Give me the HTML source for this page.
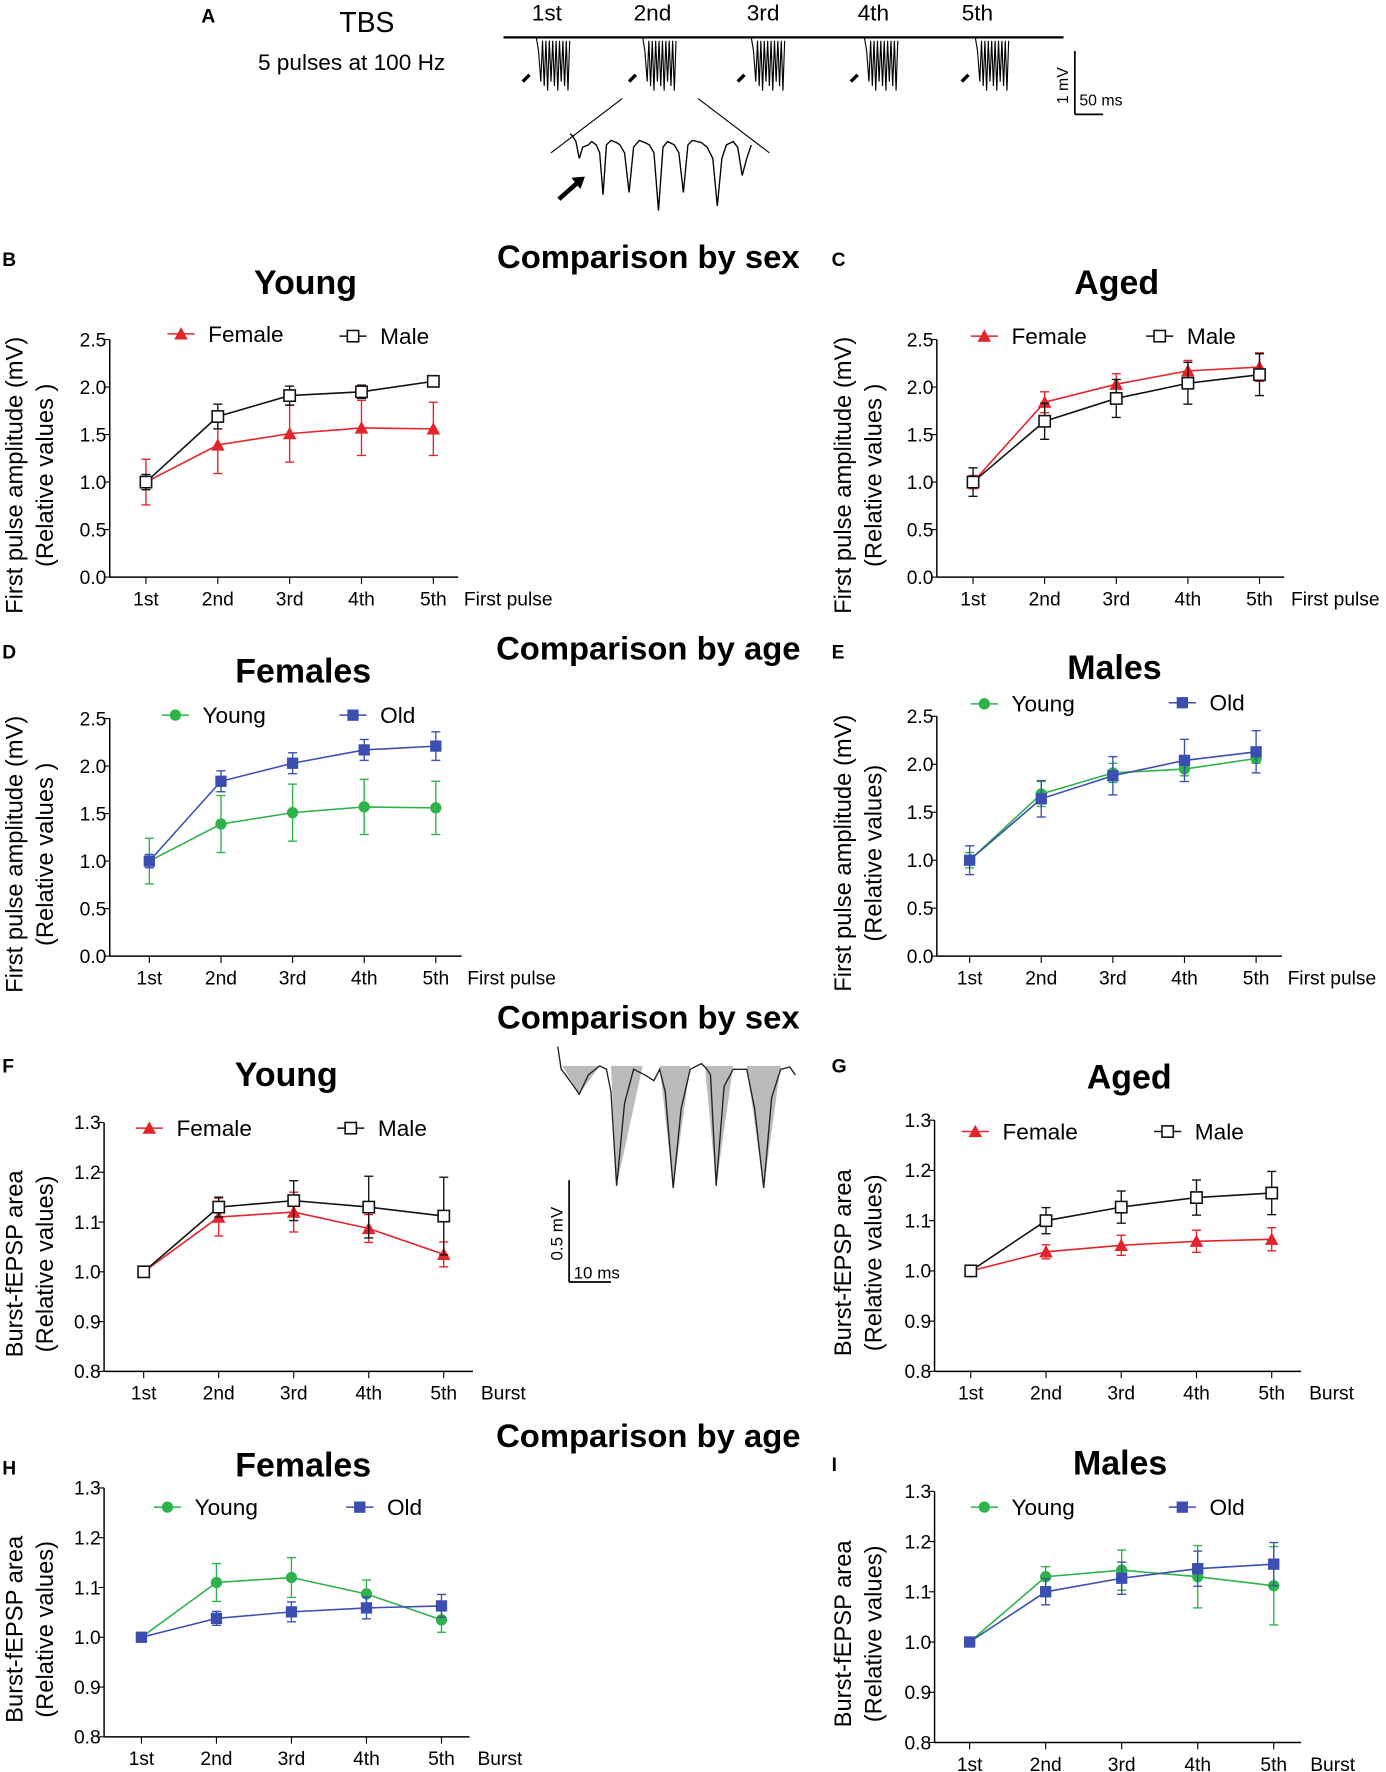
<!DOCTYPE html>
<html><head><meta charset="utf-8">
<style>
html,body{margin:0;padding:0;background:#fff;}
svg{display:block;font-family:"Liberation Sans",sans-serif;}
</style></head>
<body>
<svg id="fig" width="1386" height="1772" viewBox="0 0 1225 1566" xmlns="http://www.w3.org/2000/svg">
<g id="panelA">
<text x="178" y="20" font-size="17" font-weight="bold">A</text>
<text x="300" y="28" font-size="25">TBS</text>
<text x="228" y="62" font-size="20">5 pulses at 100 Hz</text>
<line x1="445" y1="33" x2="940" y2="33" stroke="#000" stroke-width="2"/>
<text x="470" y="18" font-size="20">1st</text>
<text x="560" y="18" font-size="20">2nd</text>
<text x="660" y="18" font-size="20">3rd</text>
<text x="758" y="18" font-size="20">4th</text>
<text x="850" y="18" font-size="20">5th</text>
<g id="bursts"></g>
<line x1="950" y1="45" x2="950" y2="101" stroke="#000" stroke-width="1.5"/>
<line x1="950" y1="101" x2="975" y2="101" stroke="#000" stroke-width="1.5"/>
<text transform="translate(944,92) rotate(-90)" font-size="14">1 mV</text>
<text x="954" y="93" font-size="14">50 ms</text>
<line x1="550" y1="87" x2="487" y2="135" stroke="#000" stroke-width="1"/>
<line x1="617" y1="87" x2="680" y2="135" stroke="#000" stroke-width="1"/>
<path d="M504,118 L506,120 L509,125 L512,140 L515,130 L520,128 L523,125 L527,128 L530,135 L533,172 L536,128 L540,124 L545,126 L548,128 L552,135 L556,170 L560,130 L565,124 L570,126 L574,128 L578,135 L582,186 L586,130 L590,125 L596,128 L600,135 L604,170 L608,128 L612,124 L620,126 L625,130 L630,140 L634,182 L638,140 L642,128 L648,125 L652,130 L656,155 L660,140 L664,128" fill="none" stroke="#000" stroke-width="1.2"/>
<path d="M494,176 L512,160" stroke="#000" stroke-width="4"/><path d="M505,157 L517,156 L513,167 Z" fill="#000"/>
</g>
<g id="charts"></g>
</svg>
<script>
// ---- data arrays ----
const categories = ["1st","2nd","3rd","4th","5th"];
const youngFemaleAmp = [1.0,1.39,1.51,1.57,1.56];
const youngFemaleAmpErr = [0.24,0.30,0.30,0.29,0.28];
const youngMaleAmp = [1.0,1.69,1.91,1.95,2.06];
const youngMaleAmpErr = [0.08,0.13,0.10,0.07,0.05];
const agedFemaleAmp = [1.0,1.84,2.03,2.17,2.21];
const agedFemaleAmpErr = [0.07,0.11,0.11,0.11,0.15];
const agedMaleAmp = [1.0,1.64,1.88,2.04,2.13];
const agedMaleAmpErr = [0.15,0.19,0.20,0.22,0.22];
const youngFemaleArea = [1.0,1.11,1.12,1.087,1.035];
const youngFemaleAreaErr = [0.004,0.038,0.04,0.028,0.025];
const youngMaleArea = [1.0,1.13,1.143,1.13,1.112];
const youngMaleAreaErr = [0.003,0.02,0.04,0.062,0.078];
const agedFemaleArea = [1.0,1.038,1.051,1.059,1.063];
const agedFemaleAreaErr = [0.003,0.014,0.02,0.022,0.023];
const agedMaleArea = [1.0,1.1,1.127,1.146,1.155];
const agedMaleAreaErr = [0.003,0.026,0.032,0.035,0.043];
const ampTicks = ["0.0","0.5","1.0","1.5","2.0","2.5"];
const areaTicks = ["0.8","0.9","1.0","1.1","1.2","1.3"];

const NS="http://www.w3.org/2000/svg";
const root=document.getElementById('charts');
function mk(tag,attrs,parent){const e=document.createElementNS(NS,tag);for(const k in attrs)e.setAttribute(k,attrs[k]);(parent||root).appendChild(e);return e;}
function txt(x,y,s,size,extra,parent){const t=mk('text',Object.assign({x:x,y:y,'font-size':size},extra||{}),parent);t.textContent=s;return t;}

// burst traces in panel A (decorative)
const bg=document.getElementById('bursts');
[478,572,668,768,866].forEach(bx=>{
  let d=`M${bx-4},33 L${bx-2},45`;
  for(let k=0;k<9;k++){const x=bx+k*3;d+=` L${x},${72+(k%3)*4} L${x+1.5},36`;}
  mk('path',{d:d,fill:'none',stroke:'#000','stroke-width':1},bg);
  mk('path',{d:`M${bx-16},72 L${bx-10},66`,stroke:'#000','stroke-width':3},bg);
});

function marker(g,type,x,y,color){
  if(type==='tri') return mk('path',{d:`M${x},${y-6} L${x+6},${y+5} L${x-6},${y+5} Z`,fill:color},g);
  if(type==='sqo') return mk('rect',{x:x-5,y:y-5,width:10,height:10,fill:'#fff',stroke:color,'stroke-width':1.4},g);
  if(type==='sq') return mk('rect',{x:x-5,y:y-5,width:10,height:10,fill:color},g);
  return mk('circle',{cx:x,cy:y,r:5,fill:color},g);
}
function panel(cfg){
  const g=mk('g',{});
  
  
  const ymin=parseFloat(cfg.ticks[0]),ymax=parseFloat(cfg.ticks[cfg.ticks.length-1]);
  const Y=v=>cfg.y0-(v-ymin)/(ymax-ymin)*(cfg.y0-cfg.y1);
  const X=i=>cfg.xs+i*cfg.dx;
  mk('line',{x1:cfg.ax,y1:cfg.y1,x2:cfg.ax,y2:cfg.y0,stroke:'#000','stroke-width':1.3},g);
  mk('line',{x1:cfg.ax,y1:cfg.y0,x2:cfg.xend,y2:cfg.y0,stroke:'#000','stroke-width':1.3},g);
  cfg.ticks.forEach(t=>{const y=Y(parseFloat(t));mk('line',{x1:cfg.ax-5,y1:y,x2:cfg.ax,y2:y,stroke:'#000'},g);
    const tl=txt(cfg.ax-3,y+6,t,17,{'text-anchor':'end'},g);
    
    });
  categories.forEach((c,i)=>{mk('line',{x1:X(i),y1:cfg.y0,x2:X(i),y2:cfg.y0+6,stroke:'#000'},g);
    const cl=txt(X(i),cfg.y0+25,c,17,{'text-anchor':'middle'},g);
    
    });
  const xl=txt(cfg.xlabX,cfg.y0+25,cfg.xlab,17,{},g);
  
  
  const yt=txt(0,0,cfg.yt1,21,{transform:`translate(${cfg.ytx},${(cfg.y0+cfg.y1)/2+15}) rotate(-90)`,'text-anchor':'middle'},g);
  
  
  const yt2=txt(0,0,cfg.yt2,21,{transform:`translate(${cfg.ytx+27},${(cfg.y0+cfg.y1)/2+15}) rotate(-90)`,'text-anchor':'middle'},g);
  
  
  const ti=txt(cfg.tx,cfg.ty,cfg.title,30,{'text-anchor':'middle','font-weight':'bold'},g);
  
  
  cfg.series.forEach((s,si)=>{
    const sg=mk('g',{},g);
    
    
    s.vals.forEach((v,i)=>{const x=X(i);const a=Y(v+s.err[i]),b=Y(v-s.err[i]);
      mk('line',{x1:x,y1:a,x2:x,y2:b,stroke:s.color,'stroke-width':1.2},sg);
      mk('line',{x1:x-4,y1:a,x2:x+4,y2:a,stroke:s.color,'stroke-width':1.2},sg);
      mk('line',{x1:x-4,y1:b,x2:x+4,y2:b,stroke:s.color,'stroke-width':1.2},sg);});
    mk('polyline',{points:s.vals.map((v,i)=>X(i)+','+Y(v)).join(' '),fill:'none',stroke:s.color,'stroke-width':1.4},sg);
    s.vals.forEach((v,i)=>{const m=marker(sg,s.marker,X(i),Y(v),s.color);
      
      });
    const lx=s.lx, ly=s.ly;
    const lg=mk('g',{},g);
    
    
    mk('line',{x1:lx-12,y1:ly,x2:lx+12,y2:ly,stroke:s.color,'stroke-width':1.3},lg);
    marker(lg,s.marker,lx,ly,s.color);
    txt(lx+24,ly+7,s.label,20,{},lg);
  });
  const pl=txt(cfg.plx,cfg.ply,cfg.plabel,17,{'font-weight':'bold'},g);
  
  
}
const RED='#e3242b',BLK='#111',GRN='#2db34a',BLU='#3a4fb0';
const ampY1="First pulse amplitude (mV)", ampY2="(Relative values )";
const arY1="Burst-fEPSP area", arY2="(Relative values)";
panel({name:'panel-b-young-sex',plabel:'B',plx:2,ply:235,ticks:ampTicks,ax:97,y0:510,y1:300,xs:129,dx:63.5,xend:405,xlab:'First pulse',xlabX:410,ytx:20,yt1:ampY1,yt2:ampY2,title:'Young',tx:270,ty:260,
 series:[{label:'Female',vals:youngFemaleAmp,err:youngFemaleAmpErr,color:RED,marker:'tri',lx:160,ly:295},{label:'Male',vals:youngMaleAmp,err:youngMaleAmpErr,color:BLK,marker:'sqo',lx:312,ly:297}]});
panel({name:'panel-c-aged-sex',plabel:'C',plx:735,ply:235,ticks:ampTicks,ax:828,y0:510,y1:300,xs:860,dx:63.3,xend:1135,xlab:'First pulse',xlabX:1141,ytx:752,yt1:ampY1,yt2:ampY2,title:'Aged',tx:987,ty:260,
 series:[{label:'Female',vals:agedFemaleAmp,err:agedFemaleAmpErr,color:RED,marker:'tri',lx:870,ly:297},{label:'Male',vals:agedMaleAmp,err:agedMaleAmpErr,color:BLK,marker:'sqo',lx:1025,ly:297}]});
panel({name:'panel-d-females-age',plabel:'D',plx:2,ply:582,ticks:ampTicks,ax:97,y0:845,y1:635,xs:132,dx:63.3,xend:408,xlab:'First pulse',xlabX:413,ytx:20,yt1:ampY1,yt2:ampY2,title:'Females',tx:268,ty:603,
 series:[{label:'Young',vals:youngFemaleAmp,err:youngFemaleAmpErr,color:GRN,marker:'circ',lx:155,ly:632},{label:'Old',vals:agedFemaleAmp,err:agedFemaleAmpErr,color:BLU,marker:'sq',lx:312,ly:632}]});
panel({name:'panel-e-males-age',plabel:'E',plx:735,ply:582,ticks:ampTicks,ax:828,y0:845,y1:633,xs:857,dx:63.3,xend:1133,xlab:'First pulse',xlabX:1138,ytx:752,yt1:ampY1,yt2:'(Relative values)',title:'Males',tx:985,ty:600,
 series:[{label:'Young',vals:youngMaleAmp,err:youngMaleAmpErr,color:GRN,marker:'circ',lx:870,ly:622},{label:'Old',vals:agedMaleAmp,err:agedMaleAmpErr,color:BLU,marker:'sq',lx:1045,ly:621}]});
panel({name:'panel-f-young-area',plabel:'F',plx:2,ply:948,ticks:areaTicks,ax:92,y0:1212,y1:992,xs:127,dx:66.3,xend:418,xlab:'Burst',xlabX:425,ytx:20,yt1:arY1,yt2:arY2,title:'Young',tx:253,ty:960,
 series:[{label:'Female',vals:youngFemaleArea,err:youngFemaleAreaErr,color:RED,marker:'tri',lx:132,ly:997},{label:'Male',vals:youngMaleArea,err:youngMaleAreaErr,color:BLK,marker:'sqo',lx:310,ly:997}]});
panel({name:'panel-g-aged-area',plabel:'G',plx:735,ply:948,ticks:areaTicks,ax:826,y0:1212,y1:990,xs:858,dx:66.5,xend:1150,xlab:'Burst',xlabX:1157,ytx:752,yt1:arY1,yt2:arY2,title:'Aged',tx:998,ty:962,
 series:[{label:'Female',vals:agedFemaleArea,err:agedFemaleAreaErr,color:RED,marker:'tri',lx:862,ly:1000},{label:'Male',vals:agedMaleArea,err:agedMaleAreaErr,color:BLK,marker:'sqo',lx:1032,ly:1000}]});
panel({name:'panel-h-females-area',plabel:'H',plx:2,ply:1303,ticks:areaTicks,ax:92,y0:1535,y1:1315,xs:125,dx:66.3,xend:415,xlab:'Burst',xlabX:422,ytx:20,yt1:arY1,yt2:arY2,title:'Females',tx:268,ty:1305,
 series:[{label:'Young',vals:youngFemaleArea,err:youngFemaleAreaErr,color:GRN,marker:'circ',lx:148,ly:1332},{label:'Old',vals:agedFemaleArea,err:agedFemaleAreaErr,color:BLU,marker:'sq',lx:318,ly:1332}]});
panel({name:'panel-i-males-area',plabel:'I',plx:735,ply:1300,ticks:areaTicks,ax:826,y0:1540,y1:1318,xs:857,dx:67.2,xend:1150,xlab:'Burst',xlabX:1158,ytx:752,yt1:arY1,yt2:arY2,title:'Males',tx:990,ty:1303,
 series:[{label:'Young',vals:youngMaleArea,err:youngMaleAreaErr,color:GRN,marker:'circ',lx:870,ly:1332},{label:'Old',vals:agedMaleArea,err:agedMaleAreaErr,color:BLU,marker:'sq',lx:1045,ly:1332}]});
[["Comparison by sex",237],["Comparison by age",583],["Comparison by sex",909],["Comparison by age",1279]].forEach(h=>{
  const t=txt(573,h[1],h[0],29,{'text-anchor':'middle','font-weight':'bold'});
  
  
});
const ins=mk('g',{});


[[497,530,512,967],[540,568,545,1048],[583,610,595,1050],[623,648,633,1048],[660,690,675,1050]].forEach(p=>{
  mk('path',{d:`M${p[0]},942 L${p[1]},942 L${p[2]},${p[3]} Z`,fill:'#bbb'},ins);});
mk('path',{d:'M493,925 L496,945 L500,950 L512,967 L520,950 L530,942 L536,945 L540,965 L545,1048 L552,975 L560,945 L570,950 L578,955 L583,945 L588,965 L595,1050 L602,980 L610,945 L620,940 L625,945 L628,950 L633,1048 L640,960 L648,945 L660,945 L667,980 L675,1050 L682,970 L690,945 L698,943 L703,950',fill:'none',stroke:'#222','stroke-width':1.2},ins);
mk('line',{x1:503,y1:1043,x2:503,y2:1133,stroke:'#000','stroke-width':1.5},ins);
mk('line',{x1:503,y1:1133,x2:540,y2:1133,stroke:'#000','stroke-width':1.5},ins);
txt(0,0,'0.5 mV',15,{transform:'translate(497,1114) rotate(-90)'},ins);
txt(507,1130,'10 ms',15,{},ins);
</script>
</body></html>
